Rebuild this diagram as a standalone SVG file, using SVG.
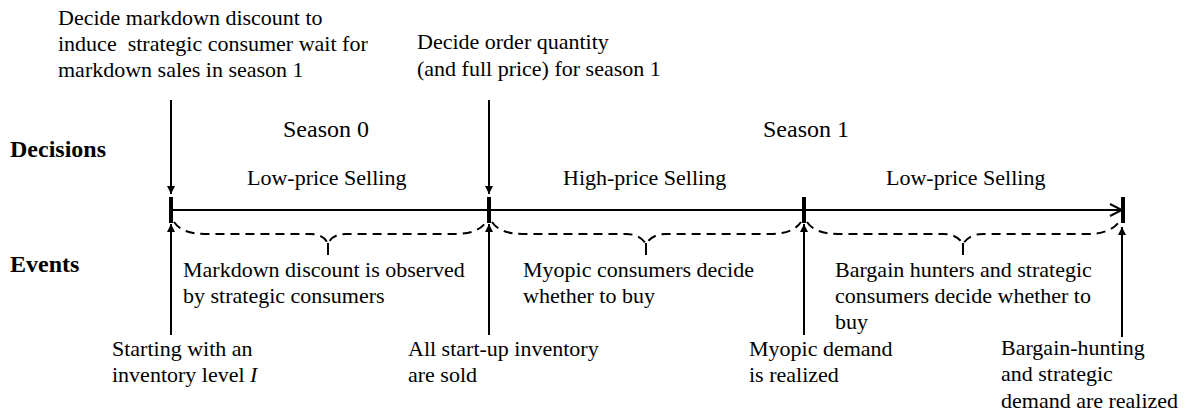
<svg xmlns="http://www.w3.org/2000/svg" width="1189" height="414" viewBox="0 0 1189 414">
<defs>
<marker id="ah" viewBox="0 0 10 10" refX="10" refY="5" markerWidth="8" markerHeight="8" markerUnits="userSpaceOnUse" orient="auto"><path d="M0,0 L10,5 L0,10 z" fill="#000"/></marker>
<marker id="open" viewBox="0 0 14 14" refX="13" refY="7" markerWidth="14" markerHeight="14" markerUnits="userSpaceOnUse" orient="auto"><path d="M1,1 L13,7 L1,13" fill="none" stroke="#000" stroke-width="2"/></marker>
</defs>
<style>
text{font-family:"Liberation Serif","Times New Roman",serif;font-size:22px;fill:#000}
.season{font-size:24px}
.head{font-size:24px;font-weight:bold}
.ln{stroke:#000;stroke-width:2;fill:none}
.tick{stroke:#000;stroke-width:4}
.arr{stroke:#000;stroke-width:2;fill:none;marker-end:url(#ah)}
.brace{stroke:#000;stroke-width:2;fill:none;stroke-dasharray:9 6}
</style>
<rect width="1189" height="414" fill="#fff"/>
<g id="labels">
<text class="head" x="10" y="157">Decisions</text>
<text class="head" x="10" y="272">Events</text>
<text class="season" x="283" y="137">Season 0</text>
<text class="season" x="763" y="137">Season 1</text>
<text x="247" y="185">Low-price Selling</text>
<text x="563" y="185">High-price Selling</text>
<text x="886" y="185">Low-price Selling</text>
</g>
<g id="connectors">
<line class="ln" x1="171" y1="210" x2="1122" y2="210" marker-end="url(#open)"/>
<line class="tick" x1="171" y1="197" x2="171" y2="223"/>
<line class="tick" x1="489" y1="197" x2="489" y2="223"/>
<line class="tick" x1="804" y1="197" x2="804" y2="223"/>
<line class="tick" x1="1123" y1="197" x2="1123" y2="223"/>
<line class="arr" x1="171" y1="100" x2="171" y2="194"/>
<line class="arr" x1="489" y1="100" x2="489" y2="194"/>
<line class="arr" x1="171" y1="335" x2="171" y2="224"/>
<line class="arr" x1="489" y1="335" x2="489" y2="224"/>
<line class="arr" x1="804" y1="335" x2="804" y2="224"/>
<line class="arr" x1="1122" y1="337" x2="1122" y2="227"/>
<path class="brace" d="M174,222 Q182,234 205,234 L310,234 Q324,234 328,244 Q332,234 346,234 L455,234 Q478,234 486,222"/>
<line class="ln" x1="328" y1="243" x2="328" y2="255"/>
<path class="brace" d="M492,222 Q500,234 523,234 L626,234 Q640,234 646,244 Q652,234 666,234 L770,234 Q793,234 801,222"/>
<line class="ln" x1="646" y1="243" x2="646" y2="255"/>
<path class="brace" d="M807,222 Q815,234 838,234 L943,234 Q957,234 963,244 Q969,234 983,234 L1087,234 Q1110,234 1119,222"/>
<line class="ln" x1="963" y1="243" x2="963" y2="255"/>
</g>
<g id="d1">
<text x="58" y="25">Decide markdown discount to</text>
<text x="58" y="51" xml:space="preserve">induce  strategic consumer wait for</text>
<text x="58" y="77">markdown sales in season 1</text>
</g>
<g id="d2">
<text x="417" y="49">Decide order quantity</text>
<text x="417" y="76">(and full price) for season 1</text>
</g>
<g id="p1">
<text x="183" y="277">Markdown discount is observed</text>
<text x="183" y="303">by strategic consumers</text>
</g>
<g id="p2">
<text x="523" y="277">Myopic consumers decide</text>
<text x="523" y="303">whether to buy</text>
</g>
<g id="p3">
<text x="835" y="277">Bargain hunters and strategic</text>
<text x="835" y="303">consumers decide whether to</text>
<text x="835" y="329">buy</text>
</g>
<g id="e1">
<text x="112" y="356">Starting with an</text>
<text x="112" y="382">inventory level <tspan font-style="italic">I</tspan></text>
</g>
<g id="e2">
<text x="408" y="356">All start-up inventory</text>
<text x="408" y="382">are sold</text>
</g>
<g id="e3">
<text x="749" y="356">Myopic demand</text>
<text x="749" y="382">is realized</text>
</g>
<g id="e4">
<text x="1001" y="355">Bargain-hunting</text>
<text x="1001" y="381">and strategic</text>
<text x="1001" y="408">demand are realized</text>
</g>
</svg>
